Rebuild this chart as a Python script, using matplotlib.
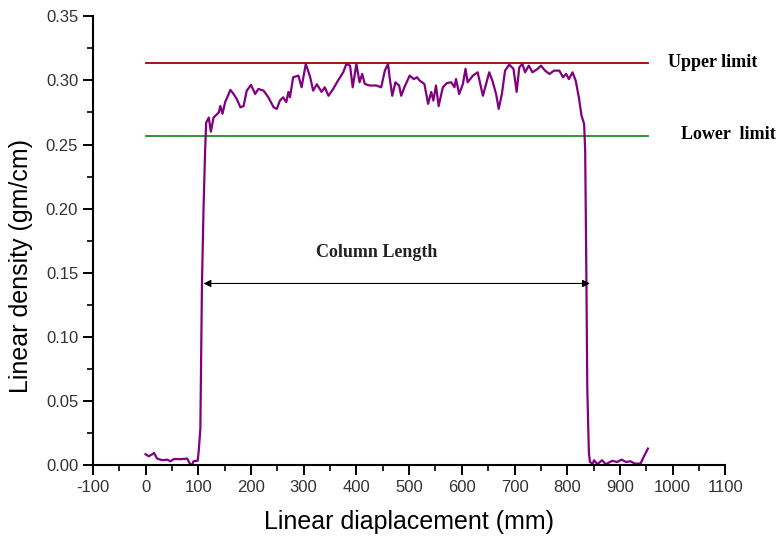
import numpy as np
import matplotlib
matplotlib.use("Agg")
import matplotlib.pyplot as plt
from matplotlib.ticker import MultipleLocator, FormatStrFormatter

plt.rcParams["axes.unicode_minus"] = False

# density profile (mm, gm/cm)
disp = [0, 6, 13, 16, 22, 32, 41, 47, 54, 66, 79, 84, 88, 91, 99, 101, 104, 105,
        107, 110, 113, 115, 120, 124, 129, 134, 139, 142, 146, 151, 161, 167, 173,
        180, 186, 192, 200, 208, 214, 224, 233, 243, 249, 255, 261, 267, 271, 274,
        280, 290, 296, 304, 312, 318, 325, 334, 340, 347, 356, 365, 375, 381, 388,
        393, 400, 406, 411, 416, 425, 438, 447, 454, 460, 463, 468, 474, 481, 485,
        491, 501, 509, 515, 520, 529, 536, 542, 546, 551, 556, 564, 572, 580, 586,
        589, 595, 602, 607, 611, 621, 630, 640, 646, 652, 658, 665, 670, 676, 682,
        690, 698, 704, 709, 715, 720, 727, 734, 744, 750, 758, 766, 775, 785, 792,
        798, 803, 810, 816, 822, 827, 832, 834, 836, 838, 841, 843, 848, 851, 857,
        866, 873, 885, 895, 903, 911, 920, 928, 939, 945, 953]
density = [0.0086, 0.0070, 0.0086, 0.0096, 0.0052, 0.0039, 0.0044, 0.0031, 0.0049,
           0.0047, 0.0052, 0.0013, 0.0000, 0.0031, 0.0036, 0.0117, 0.0286, 0.066,
           0.14, 0.20, 0.245, 0.267, 0.271, 0.260, 0.271, 0.273, 0.275, 0.280, 0.274,
           0.283, 0.2926, 0.2894, 0.2855, 0.279, 0.280, 0.292, 0.2965, 0.2894, 0.2933,
           0.292, 0.2868, 0.279, 0.2778, 0.2843, 0.2868, 0.283, 0.291, 0.2868, 0.3024,
           0.3037, 0.2946, 0.3128, 0.303, 0.292, 0.297, 0.291, 0.2946, 0.288, 0.2933,
           0.2998, 0.3063, 0.3128, 0.3115, 0.2946, 0.3128, 0.2985, 0.305, 0.2972,
           0.296, 0.296, 0.2946, 0.3076, 0.3128, 0.3024, 0.288, 0.2985, 0.296, 0.288,
           0.2946, 0.3037, 0.301, 0.3024, 0.2998, 0.2972, 0.2817, 0.291, 0.2843,
           0.296, 0.280, 0.2946, 0.298, 0.2985, 0.2946, 0.301, 0.2894, 0.2972, 0.309,
           0.2985, 0.3037, 0.3063, 0.288, 0.2972, 0.3063, 0.2998, 0.2894, 0.2778,
           0.2894, 0.3076, 0.3123, 0.309, 0.291, 0.3102, 0.3128, 0.3063, 0.3115,
           0.3063, 0.309, 0.3115, 0.3076, 0.305, 0.3076, 0.3076, 0.3024, 0.305, 0.301,
           0.3063, 0.2998, 0.2868, 0.2726, 0.266, 0.245, 0.16, 0.06, 0.01, 0.0026,
           0.0013, 0.0039, 0.0008, 0.0039, 0.0008, 0.0034, 0.0026, 0.0044, 0.0026,
           0.0031, 0.0013, 0.0013, 0.0065, 0.013]

upper_limit = 0.3136
lower_limit = 0.2565
limit_span = [0, 953]
col_start, col_end = 110, 843
col_level = 0.1417

fig = plt.figure(figsize=(7.8, 5.41), dpi=100)
ax = fig.add_axes([0.119, 0.140, 0.811, 0.830])

ax.plot(limit_span, [upper_limit, upper_limit], color="#a00000", lw=1.3)
ax.plot(limit_span, [lower_limit, lower_limit], color="#228b22", lw=1.3)
ax.plot(disp, density, color="#800080", lw=1.6)

ax.annotate("", xy=(col_start, col_level), xytext=(col_end, col_level),
            arrowprops=dict(arrowstyle="<|-|>", color="black", lw=0.8,
                            mutation_scale=11, shrinkA=0, shrinkB=0))
ax.text(438, 0.166, "Column Length", family="Liberation Serif",
        fontweight="bold", fontsize=13, ha="center", va="center", color="#222222")

ax.text(992, upper_limit, "Upper limit", family="Liberation Serif",
        fontweight="bold", fontsize=13, va="center", clip_on=False)
ax.text(1015, lower_limit + 0.001, "Lower  limit", family="Liberation Serif",
        fontweight="bold", fontsize=13, va="center", clip_on=False)

ax.set_xlim(-100, 1100)
ax.set_ylim(0, 0.35)
ax.xaxis.set_major_locator(MultipleLocator(100))
ax.xaxis.set_minor_locator(MultipleLocator(50))
ax.yaxis.set_major_locator(MultipleLocator(0.05))
ax.yaxis.set_minor_locator(MultipleLocator(0.025))
ax.yaxis.set_major_formatter(FormatStrFormatter("%.2f"))

for s in ["top", "right"]:
    ax.spines[s].set_visible(False)
for s in ["left", "bottom"]:
    ax.spines[s].set_linewidth(1.5)

ax.tick_params(which="major", length=7, width=1.4, labelsize=12,
               labelcolor="#333333", direction="out")
ax.tick_params(which="minor", length=4, width=1.2, direction="out")
for lab in ax.get_xticklabels() + ax.get_yticklabels():
    lab.set_family("Liberation Sans")

ax.set_xlabel("Linear diaplacement (mm)", family="Liberation Sans",
              fontsize=18)
ax.set_ylabel("Linear density (gm/cm)", family="Liberation Sans",
              fontsize=18)
ax.xaxis.set_label_coords(0.5, -0.1)
ax.yaxis.set_label_coords(-0.095, 0.443)

fig.savefig("out.png", dpi=100)
